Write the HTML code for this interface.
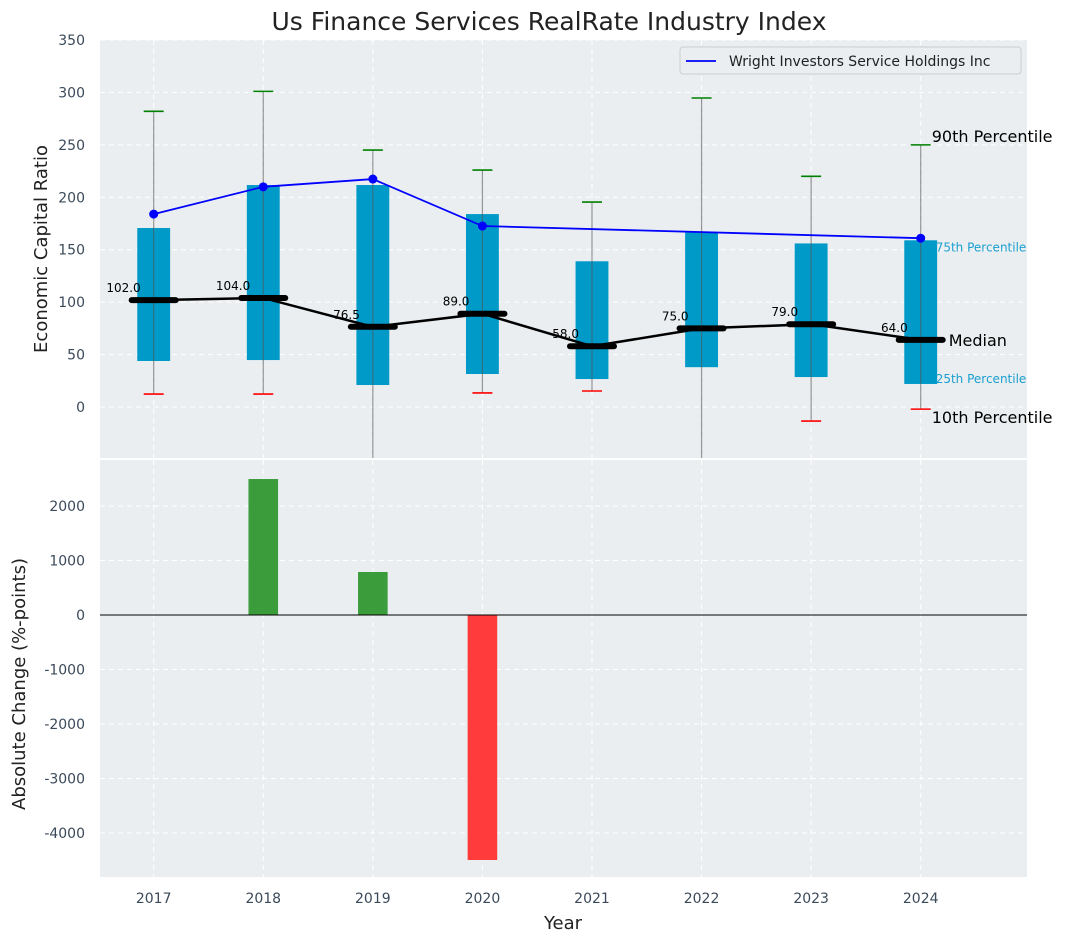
<!DOCTYPE html>
<html><head><meta charset="utf-8"><style>
body{margin:0;background:#fff;font-family:"Liberation Sans","DejaVu Sans",sans-serif}
svg text{font-family:"DejaVu Sans","Liberation Sans",sans-serif}
</style></head><body>
<svg id="c" width="1067" height="942" xmlns="http://www.w3.org/2000/svg"></svg>
<script>
const years=[2017,2018,2019,2020,2021,2022,2023,2024];
const q1=[43.9,44.8,21,31.5,26.7,38,28.6,22];
const q3=[170.7,211.7,211.7,184,139,167,156,159];
const p10=[12.4,12.4,-70,13.4,15.3,-70,-13.4,-2];
const p90=[282,301,245,226,195.5,294.7,220,250];
const medians=[102,104,76.5,89,58,75,79,64];
const medLabels=["102.0","104.0","76.5","89.0","58.0","75.0","79.0","64.0"];
const compYears=[2017,2018,2019,2020,2024];
const compVals=[184,210,217.4,172.6,161];
const changeYears=[2018,2019,2020];
const changeVals=[2495,789,-4495];
const topTicks=[0,50,100,150,200,250,300,350];
const botTicks=[-4000,-3000,-2000,-1000,0,1000,2000];

const svg=document.getElementById('c');
const NS='http://www.w3.org/2000/svg';
function el(t,a,p){const e=document.createElementNS(NS,t);for(const k in a)e.setAttribute(k,a[k]);(p||svg).appendChild(e);return e;}
const L=100,R=1027;
const X=v=>L+(v-2016.51)/(2024.97-2016.51)*(R-L);
const T0=40,T1=458,B0=460,B1=877;
const Y=v=>T1-(v-(-48.6))/(350-(-48.6))*(T1-T0);
const YB=v=>B1-(v-(-4807))/(2844-(-4807))*(B1-B0);
const pxYear=X(2018)-X(2017);

let t=el('text',{x:549,y:30,'text-anchor':'middle','font-size':25,fill:'#222'});t.textContent='Us Finance Services RealRate Industry Index';


let bg=el('rect',{x:L,y:T0,width:R-L,height:T1-T0,fill:'#eaeef0'});

let bg2=el('rect',{x:L,y:B0,width:R-L,height:B1-B0,fill:'#eaeef0'});


const clipT=el('clipPath',{id:'ct'});el('rect',{x:L,y:T0,width:R-L,height:T1-T0},clipT);
const clipB=el('clipPath',{id:'cb'});el('rect',{x:L,y:B0,width:R-L,height:B1-B0},clipB);
const gT=el('g',{'clip-path':'url(#ct)'});
const gB=el('g',{'clip-path':'url(#cb)'});

years.forEach(y=>{
 el('line',{x1:X(y),x2:X(y),y1:T0,y2:T1,stroke:'#fff','stroke-dasharray':'5,4','stroke-width':1},gT);
 el('line',{x1:X(y),x2:X(y),y1:B0,y2:B1,stroke:'#fff','stroke-dasharray':'5,4','stroke-width':1},gB);
 let tx=el('text',{x:X(y),y:903,'text-anchor':'middle','font-size':14,fill:'#3b4a5a'});tx.textContent=y;
 
});
topTicks.forEach(v=>{
 el('line',{x1:L,x2:R,y1:Y(v),y2:Y(v),stroke:'#fff','stroke-dasharray':'5,4'},gT);
 let tx=el('text',{x:85,y:Y(v)+5,'text-anchor':'end','font-size':14,fill:'#3b4a5a'});tx.textContent=v;
 
});
botTicks.forEach(v=>{
 el('line',{x1:L,x2:R,y1:YB(v),y2:YB(v),stroke:'#fff','stroke-dasharray':'5,4'},gB);
 let tx=el('text',{x:85,y:YB(v)+5,'text-anchor':'end','font-size':14,fill:'#3b4a5a'});tx.textContent=v;
 
});

const bw=0.3*pxYear;
years.forEach((y,i)=>{
 const b=el('rect',{x:X(y)-bw/2,y:Y(q3[i]),width:bw,height:Y(q1[i])-Y(q3[i]),fill:'#009ac9'},gT);
 
});
years.forEach((y,i)=>{
 const w=el('line',{x1:X(y),x2:X(y),y1:Y(p10[i]),y2:Y(p90[i]),stroke:'#555','stroke-opacity':0.6,'stroke-width':1.2},gT);
 
 const c1=el('line',{x1:X(y)-10,x2:X(y)+10,y1:Y(p90[i]),y2:Y(p90[i]),stroke:'green','stroke-width':1.6},gT);
 
 const c2=el('line',{x1:X(y)-10,x2:X(y)+10,y1:Y(p10[i]),y2:Y(p10[i]),stroke:'red','stroke-width':1.6},gT);
 
});
const mp=el('polyline',{points:years.map((y,i)=>X(y)+','+Y(medians[i])).join(' '),fill:'none',stroke:'#000','stroke-width':2.5},gT);

years.forEach((y,i)=>{
 const m=el('line',{x1:X(y)-22,x2:X(y)+22,y1:Y(medians[i]),y2:Y(medians[i]),stroke:'#000','stroke-width':6,'stroke-linecap':'round'},gT);
 
 const tx=el('text',{x:X(y)-13,y:Y(medians[i])-8,'text-anchor':'end','font-size':12,fill:'#000'});tx.textContent=medLabels[i];
 
});
const cl=el('polyline',{points:compYears.map((y,i)=>X(y)+','+Y(compVals[i])).join(' '),fill:'none',stroke:'#0000ff','stroke-width':1.8},gT);

compYears.forEach((y,i)=>{
 const d=el('circle',{cx:X(y),cy:Y(compVals[i]),r:4.5,fill:'#0000ff'},gT);
 
});
const li=years.length-1,lx=X(years[li]);
[[lx+11,Y(p90[li])-3,'90th Percentile',16,'#000'],[lx+15,Y(q3[li])+11,'75th Percentile',12,'#1a9fd0'],
 [lx+28,Y(medians[li])+6,'Median',16,'#000'],[lx+15,Y(q1[li])-1,'25th Percentile',12,'#1a9fd0'],
 [lx+11,Y(p10[li])+14,'10th Percentile',16,'#000']].forEach(a=>{
 const tx=el('text',{x:a[0],y:a[1],'font-size':a[3],fill:a[4]});tx.textContent=a[2];
 
});
const lg=el('g',{});
el('rect',{x:680,y:47,width:341,height:27,rx:3,fill:'#eaeef0',stroke:'#ccc'},lg);
el('line',{x1:686,x2:716,y1:61,y2:61,stroke:'#0000ff','stroke-width':1.8},lg);
const lt=el('text',{x:729,y:66,'font-size':14,fill:'#222'},lg);lt.textContent='Wright Investors Service Holdings Inc';

const barW=0.27*pxYear;
changeYears.forEach((y,i)=>{
 const v=changeVals[i];
 const r=el('rect',{x:X(y)-barW/2,y:Math.min(YB(v),YB(0)),width:barW,height:Math.abs(YB(v)-YB(0)),fill:v>=0?'#3a9c3a':'#ff3b3b'},gB);
 
});
el('line',{x1:L,x2:R,y1:YB(0),y2:YB(0),stroke:'#000','stroke-width':1},gB);

let a1=el('text',{x:47,y:249,'text-anchor':'middle','font-size':18,fill:'#222',transform:'rotate(-90 47 249)'});a1.textContent='Economic Capital Ratio';

let a2=el('text',{x:25,y:684,'text-anchor':'middle','font-size':18,fill:'#222',transform:'rotate(-90 25 684)'});a2.textContent='Absolute Change (%-points)';

let a3=el('text',{x:563,y:929,'text-anchor':'middle','font-size':18,fill:'#222'});a3.textContent='Year';

</script>
</body></html>
